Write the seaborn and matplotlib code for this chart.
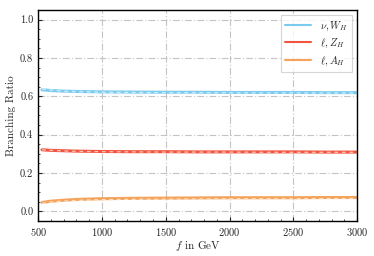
import numpy as np
import pandas as pd
import matplotlib
matplotlib.use("Agg")
import matplotlib.pyplot as plt
import seaborn as sns
from matplotlib.ticker import AutoMinorLocator

# f in GeV
f_vals = [530, 600, 700, 800, 900, 1000, 1250, 1500, 1750, 2000, 2250, 2500, 2750, 3000]

br_nu_WH = [0.634, 0.630, 0.627, 0.625, 0.624, 0.623, 0.622, 0.621, 0.621, 0.620, 0.620, 0.620, 0.619, 0.619]
br_l_ZH = [0.321, 0.318, 0.316, 0.314, 0.313, 0.312, 0.311, 0.311, 0.310, 0.310, 0.310, 0.310, 0.309, 0.309]
br_l_AH = [0.046, 0.053, 0.058, 0.062, 0.064, 0.066, 0.068, 0.069, 0.070, 0.071, 0.071, 0.071, 0.072, 0.072]

# second (dashed) estimate
br_nu_WH_d = [0.638, 0.632, 0.627, 0.624, 0.623, 0.621, 0.620, 0.619, 0.619, 0.618, 0.618, 0.618, 0.617, 0.617]
br_l_ZH_d = [0.321, 0.318, 0.315, 0.313, 0.312, 0.311, 0.310, 0.309, 0.309, 0.309, 0.308, 0.308, 0.308, 0.308]
br_l_AH_d = [0.041, 0.049, 0.054, 0.057, 0.059, 0.061, 0.063, 0.064, 0.065, 0.066, 0.066, 0.066, 0.067, 0.067]

labels = [r"$\nu, W_H$", r"$\ell, Z_H$", r"$\ell, A_H$"]
colors = ["#7ccbee", "#f2553f", "#f5a25a"]
dash_colors = ["#d2eefa", "#fbc2b8", "#fde0c4"]

sns.set_style("ticks")
plt.rcParams["font.family"] = ["cmr10", "DejaVu Serif"]
plt.rcParams["mathtext.fontset"] = "cm"
plt.rcParams["axes.formatter.use_mathtext"] = True

fig, ax = plt.subplots(figsize=(3.74, 2.56), dpi=100)
fig.subplots_adjust(left=0.102, right=0.955, top=0.961, bottom=0.137)

solid = [br_nu_WH, br_l_ZH, br_l_AH]
dashed = [br_nu_WH_d, br_l_ZH_d, br_l_AH_d]
for s, d, lab, c, dc in zip(solid, dashed, labels, colors, dash_colors):
    sns.lineplot(x=f_vals, y=s, ax=ax, color=c, lw=2.2, label=lab)
    sns.lineplot(x=f_vals, y=d, ax=ax, color=dc, lw=0.9, ls=(0, (3, 3)))

ax.set_xlim(500, 3000)
ax.set_ylim(-0.05, 1.05)
ax.set_xticks([500, 1000, 1500, 2000, 2500, 3000])
ax.set_yticks([0.0, 0.2, 0.4, 0.6, 0.8, 1.0])
ax.set_yticklabels(["0.0", "0.2", "0.4", "0.6", "0.8", "1.0"])
ax.xaxis.set_minor_locator(AutoMinorLocator(5))
ax.yaxis.set_minor_locator(AutoMinorLocator(4))
ax.tick_params(which="both", direction="in", labelsize=7.5)
ax.tick_params(which="major", length=3)
ax.tick_params(which="minor", length=1.5)
ax.grid(True, which="major", ls=(0, (6, 2, 1, 2)), color="#c4c4c4", lw=0.8)
ax.set_xlabel(r"$f$ in GeV", fontsize=8, labelpad=1)
ax.set_ylabel("Branching Ratio", fontsize=8, labelpad=3)
for sp in ax.spines.values():
    sp.set_linewidth(1.0)
    sp.set_color("black")

leg = ax.legend(loc="upper right", fontsize=7.5, frameon=True, fancybox=False,
                handlelength=2.5, borderpad=0.4, labelspacing=0.4)
leg.get_frame().set_edgecolor("#cccccc")
leg.get_frame().set_linewidth(0.8)
for h in leg.get_lines():
    h.set_linewidth(1.5)

fig.savefig("out.png", dpi=100)
